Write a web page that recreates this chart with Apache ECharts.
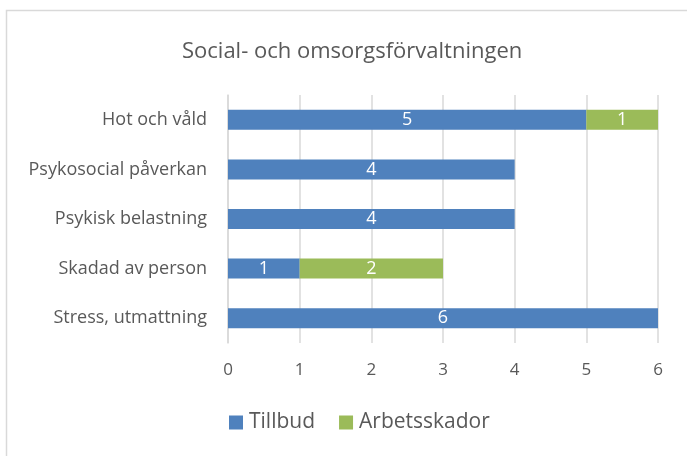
<!DOCTYPE html>
<html>
<head>
<meta charset="utf-8">
<script src="https://cdn.jsdelivr.net/npm/echarts@6/dist/echarts.min.js"></script>
<style>
  html, body { margin: 0; padding: 0; background: #fff; }
  #chart { width: 687px; height: 456px; }
</style>
</head>
<body>
<div id="chart"></div>
<script>
// categories top to bottom
const categories = ['Hot och våld', 'Psykosocial påverkan', 'Psykisk belastning', 'Skadad av person', 'Stress, utmattning'];
const tillbud = [5, 4, 4, 1, 6];
const arbetsskador = [1, 0, 0, 2, 0];
const xTicks = [0, 1, 2, 3, 4, 5, 6];

let chart = echarts.init(document.getElementById('chart'));
const FONT = 'Open Sans';

function segLabel(p) {
    return p.value ? String(p.value) : '';
}

let option = {
    backgroundColor: '#fff',
    animation: false,
    textStyle: { fontFamily: FONT },
    graphic: [
        {
            type: 'rect',
            shape: { x: 6.5, y: 10.5, width: 720, height: 500 },
            style: { fill: 'none', stroke: '#d9d9d9', lineWidth: 1.5 },
            silent: true
        }
    ],
    title: {
        text: 'Social- och omsorgsförvaltningen',
        left: 177,
        top: 36,
        textStyle: { fontFamily: FONT, fontSize: 22, fontWeight: 'normal', color: '#595959' }
    },
    legend: {
        bottom: 18,
        left: 224,
        icon: 'rect',
        itemWidth: 14,
        itemHeight: 14,
        itemGap: 24,
        textStyle: { fontFamily: FONT, fontSize: 21, color: '#595959', padding: [0, 0, 0, 1] },
        data: ['Tillbud', 'Arbetsskador']
    },
    grid: {
        left: 228,
        right: 29,
        top: 95,
        bottom: 113,
        containLabel: false
    },
    xAxis: {
        type: 'value',
        min: xTicks[0],
        max: xTicks[xTicks.length - 1],
        interval: 1,
        axisLine: { show: false },
        axisTick: { show: false },
        axisLabel: { color: '#595959', fontSize: 17, margin: 19, fontFamily: FONT },
        splitLine: { show: true, lineStyle: { color: '#d9d9d9', width: 1.5 } }
    },
    yAxis: {
        type: 'category',
        inverse: true,
        data: categories,
        axisLine: { show: true, lineStyle: { color: '#d9d9d9', width: 1.5 } },
        axisTick: { show: false },
        axisLabel: { color: '#595959', fontSize: 18, margin: 21, fontFamily: FONT }
    },
    series: [
        {
            name: 'Tillbud',
            type: 'bar',
            stack: 'total',
            barWidth: 20,
            data: tillbud,
            itemStyle: { color: '#4f81bd' },
            label: { show: true, position: 'inside', color: '#fff', fontSize: 18, fontFamily: FONT, formatter: segLabel }
        },
        {
            name: 'Arbetsskador',
            type: 'bar',
            stack: 'total',
            barWidth: 20,
            data: arbetsskador,
            itemStyle: { color: '#9bbb59' },
            label: { show: true, position: 'inside', color: '#fff', fontSize: 18, fontFamily: FONT, formatter: segLabel }
        }
    ]
};

option && chart.setOption(option);
</script>
</body>
</html>
